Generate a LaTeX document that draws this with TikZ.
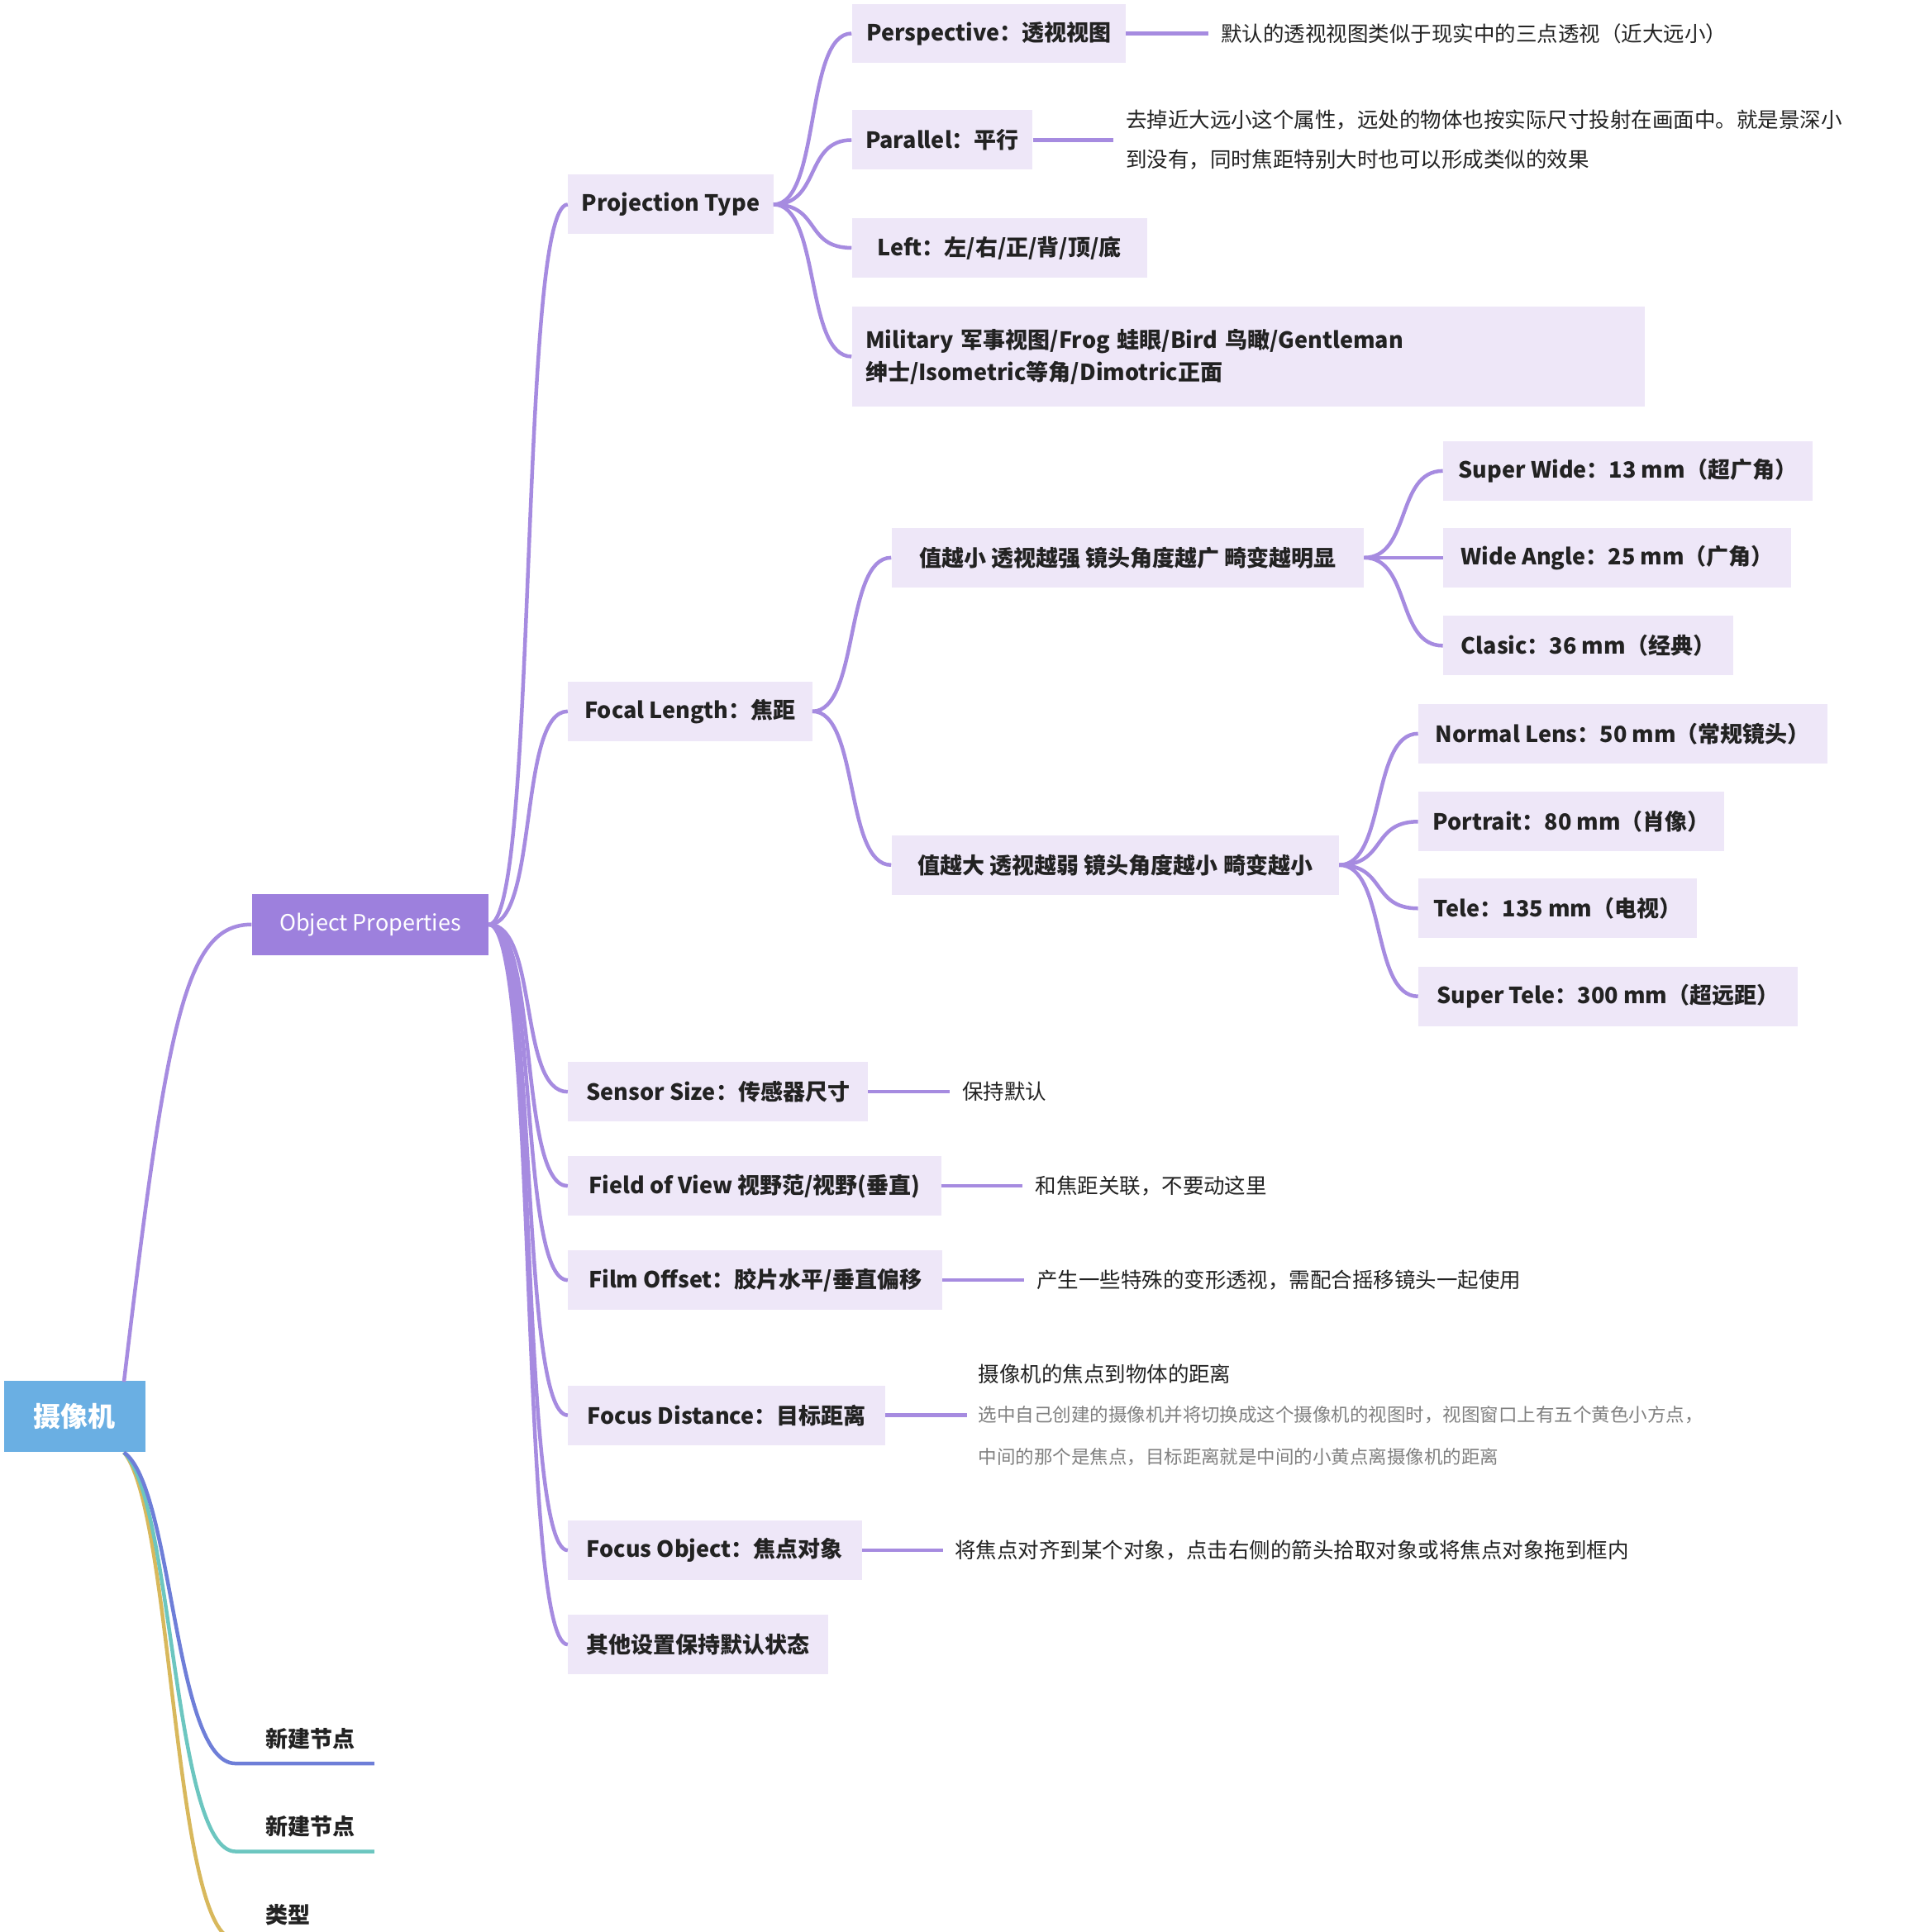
\documentclass[tikz,border=0pt]{standalone}
\usepackage{fontspec}
\setmainfont{Noto Sans CJK SC}
\begin{document}
\begin{tikzpicture}[x=1pt,y=-1pt,
  lv/.style={draw=none,fill=lav,anchor=west,minimum height=48pt,inner xsep=11pt,font=\fontsize{18}{26}\selectfont\bfseries,text=txt},
  cn/.style={draw=con,line width=3pt},
  note/.style={anchor=west,font=\fontsize{17}{32}\selectfont,text=txt,inner sep=0pt,align=left}]
\definecolor{lav}{HTML}{EEE7F8}
\definecolor{con}{HTML}{A68BE0}
\definecolor{txt}{HTML}{222222}
\definecolor{op}{HTML}{9D80DD}
\definecolor{root}{HTML}{6AAFE3}
\definecolor{b1}{HTML}{6E7ED8}
\definecolor{b2}{HTML}{6CC6C0}
\definecolor{b3}{HTML}{D8B85C}
\useasboundingbox (0,0) rectangle (1553,1559);
\newcommand{\cc}[2]{\draw[cn] (#1.east) .. controls +(38,0) and +(-38,0) .. (#2.west);}
% root
\node[fill=root,text=white,anchor=west,minimum width=114pt,minimum height=57pt,font=\fontsize{22}{26}\selectfont\bfseries] (r) at (3,1143) {摄像机};
\node[fill=op,text=white,anchor=west,minimum width=191pt,minimum height=49pt,font=\fontsize{18}{24}\selectfont] (op) at (203,746) {Object Properties};
\draw[line width=3pt,draw=con] (100,1115) .. controls (135,820) and (150,746) .. (op.west);
% level 2
\node[lv,minimum width=165pt] (pt) at (458,165) {Projection Type};
\node[lv,minimum width=197pt] (fl) at (458,574) {Focal Length：焦距};
\node[lv,minimum width=242pt] (ss) at (458,881) {Sensor Size：传感器尺寸};
\node[lv,minimum width=301pt] (fv) at (458,957) {Field of View 视野范/视野(垂直)};
\node[lv,minimum width=302pt] (fo) at (458,1033) {Film Offset：胶片水平/垂直偏移};
\node[lv,minimum width=256pt] (fd) at (458,1142) {Focus Distance：目标距离};
\node[lv,minimum width=237pt] (fob) at (458,1251) {Focus Object：焦点对象};
\node[lv,minimum width=210pt] (ot) at (458,1327) {其他设置保持默认状态};
\foreach \n in {pt,fl,ss,fv,fo,fd,fob,ot}{\draw[cn] (op.east) .. controls +(40,0) and +(-40,0) .. (\n.west);}
% level 3
\node[lv,minimum width=221pt] (pe) at (687,27) {Perspective：透视视图};
\node[lv,minimum width=145pt] (pa) at (687,113) {Parallel：平行};
\node[lv,minimum width=238pt] (le) at (687,200) {Left：左/右/正/背/顶/底};
\node[lv,anchor=north west,text width=618pt,minimum height=81pt,align=left] (mi) at (687,247) {Military 军事视图/Frog 蛙眼/Bird 鸟瞰/Gentleman 绅士/Isometric等角/Dimotric正面};
\foreach \n in {pe,pa,le,mi}{\cc{pt}{\n}}
\node[lv,minimum width=381pt] (sm) at (719,450) {值越小 透视越强 镜头角度越广 畸变越明显};
\node[lv,minimum width=361pt] (bg) at (719,698) {值越大 透视越弱 镜头角度越小 畸变越小};
\cc{fl}{sm}\cc{fl}{bg}
\node[lv,minimum width=298pt] (sw) at (1164,380) {Super Wide：13 mm（超广角）};
\node[lv,minimum width=281pt] (wa) at (1164,450) {Wide Angle：25 mm（广角）};
\node[lv,minimum width=234pt] (cl) at (1164,521) {Clasic：36 mm（经典）};
\foreach \n in {sw,wa,cl}{\cc{sm}{\n}}
\node[lv,minimum width=330pt] (nl) at (1144,592) {Normal Lens：50 mm（常规镜头）};
\node[lv,minimum width=247pt] (po) at (1144,663) {Portrait：80 mm（肖像）};
\node[lv,minimum width=225pt] (te) at (1144,733) {Tele：135 mm（电视）};
\node[lv,minimum width=306pt] (st) at (1144,804) {Super Tele：300 mm（超远距）};
\foreach \n in {nl,po,te,st}{\cc{bg}{\n}}
% notes
\coordinate (c1) at (975,27); \draw[cn] (pe.east) -- (c1);
\node[note] (n1) at (985,27) {默认的透视视图类似于现实中的三点透视（近大远小）};
\coordinate (c2) at (898,113); \draw[cn] (pa.east) -- (c2);
\node[note] (n2) at (908,113) {去掉近大远小这个属性，远处的物体也按实际尺寸投射在画面中。就是景深小\\到没有，同时焦距特别大时也可以形成类似的效果};
\coordinate (c3) at (766,881); \draw[cn] (ss.east) -- (c3);
\node[note] (n3) at (776,881) {保持默认};
\coordinate (c4) at (825,957); \draw[cn] (fv.east) -- (c4);
\node[note] (n4) at (835,957) {和焦距关联，不要动这里};
\coordinate (c5) at (826,1033); \draw[cn] (fo.east) -- (c5);
\node[note] (n5) at (836,1033) {产生一些特殊的变形透视，需配合摇移镜头一起使用};
\coordinate (c6) at (780,1142); \draw[cn] (fd.east) -- (c6);
\node[note] (n6) at (789,1109) {摄像机的焦点到物体的距离};
\node[note,font=\fontsize{15}{34}\selectfont,text=gray] (n6b) at (789,1159) {选中自己创建的摄像机并将切换成这个摄像机的视图时，视图窗口上有五个黄色小方点，\\中间的那个是焦点，目标距离就是中间的小黄点离摄像机的距离};
\coordinate (c7) at (761,1251); \draw[cn] (fob.east) -- (c7);
\node[note] (n7) at (770,1251) {将焦点对齐到某个对象，点击右侧的箭头拾取对象或将焦点对象拖到框内};
% bottom branches
\node[note,font=\fontsize{18}{24}\selectfont\bfseries] (x1) at (214,1403) {新建节点};
\node[note,font=\fontsize{18}{24}\selectfont\bfseries] (x2) at (214,1474) {新建节点};
\node[note,font=\fontsize{18}{24}\selectfont\bfseries] (x3) at (214,1545) {类型};
\coordinate (u1) at (302,1423); \coordinate (u2) at (302,1494); \coordinate (u3) at (264,1565);
\draw[line width=3pt,b3] (100,1172) .. controls (140,1220) and (140,1565) .. (190,1565) -- (u3);
\draw[line width=3pt,b2] (100,1172) .. controls (140,1210) and (140,1494) .. (190,1494) -- (u2);
\draw[line width=3pt,b1] (100,1172) .. controls (140,1200) and (140,1423) .. (190,1423) -- (u1);
\end{tikzpicture}
\end{document}
